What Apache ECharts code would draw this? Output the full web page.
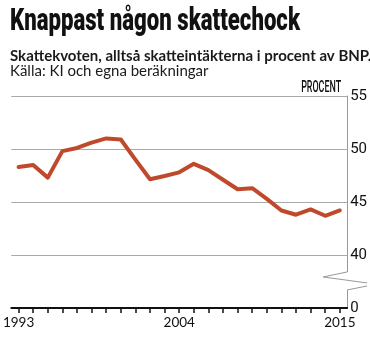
<!DOCTYPE html>
<html><head><meta charset="utf-8">
<script src="https://cdn.jsdelivr.net/npm/echarts@6/dist/echarts.min.js"></script>
<style>html,body{margin:0;padding:0;background:#fff}#c{width:370px;height:337px}</style>
</head><body><div id="c"></div>
<script>
const years = ['1993','1994','1995','1996','1997','1998','1999','2000','2001','2002','2003','2004','2005','2006','2007','2008','2009','2010','2011','2012','2013','2014','2015'];
const taxRatio = [48.3,48.5,47.3,49.8,50.1,50.6,51.0,50.9,49.0,47.15,47.45,47.8,48.6,48.0,47.1,46.2,46.3,45.3,44.2,43.8,44.3,43.7,44.2];
const yMin = 35, yMax = 55, yStep = 5;
const titleText = 'Knappast någon skattechock';
const subtitleText = 'Skattekvoten, alltså skatteintäkterna i procent av BNP.';
const sourceText = 'Källa: KI och egna beräkningar';
const unitText = 'PROCENT';

const sans = 'Lato,"Open Sans",sans-serif';
const titleFont = {family:'Roboto,"DejaVu Sans",sans-serif', weight:900, size:31};
const unitFont = {family:'Roboto,"DejaVu Sans",sans-serif', weight:500, size:16};

// horizontal compression factor to imitate the condensed typefaces
function fitScale(text, f, targetWidth){
  const ctx = document.createElement('canvas').getContext('2d');
  ctx.font = f.weight + ' ' + f.size + 'px ' + f.family;
  return targetWidth / ctx.measureText(text).width;
}
const titleScale = fitScale(titleText, titleFont, 290);
const unitScale = fitScale(unitText, unitFont, 40);

const chart = echarts.init(document.getElementById('c'), null, {renderer:'canvas'});
chart.setOption({
  animation:false,
  backgroundColor:'#fff',
  grid:{left:11,right:20,top:96,bottom:29,containLabel:false},
  xAxis:{
    type:'category',data:years,boundaryGap:true,
    axisLine:{show:true,lineStyle:{color:'#111',width:2}},
    axisTick:{show:true,interval:0,alignWithLabel:true,inside:false,length:5,lineStyle:{color:'#111',width:1.5}},
    axisLabel:{interval:10,margin:8,fontFamily:sans,fontSize:13.5,color:'#111'},
    splitLine:{show:false}
  },
  yAxis:{
    type:'value',position:'right',min:yMin,max:yMax,interval:yStep,
    axisLine:{show:true,lineStyle:{color:'#999',width:1}},
    axisTick:{show:false},
    axisLabel:{margin:3,fontFamily:'Roboto,sans-serif',fontSize:15,color:'#111',
      formatter:v=>v===yMin?'0':String(v)},
    splitLine:{lineStyle:{color:'#aaa',width:1}}
  },
  series:[{type:'line',data:taxRatio,symbol:'none',
    lineStyle:{color:'#bf4a2b',width:4,join:'round',cap:'round'}}]
});

function decorate(){
  const grid = chart.getModel().getComponent('grid').coordinateSystem.getRect();
  const ax = grid.x + grid.width;
  const yTop = chart.convertToPixel({yAxisIndex:0}, 38.4);
  const yBot = chart.convertToPixel({yAxisIndex:0}, 36.7);
  chart.setOption({graphic:[
    {type:'text',id:'title',x:10,y:7,scaleX:titleScale,
      style:{text:titleText,fontFamily:titleFont.family,fontWeight:titleFont.weight,fontSize:titleFont.size,fill:'#111',verticalAlign:'top',align:'left'}},
    {type:'text',id:'sub',x:10,y:49,
      style:{text:subtitleText,fontFamily:sans,fontWeight:'bold',fontSize:15,fill:'#1a1a1a',verticalAlign:'top'}},
    {type:'text',id:'src',x:10,y:64,
      style:{text:sourceText,fontFamily:sans,fontWeight:'normal',fontSize:15,fill:'#1a1a1a',verticalAlign:'top'}},
    {type:'text',id:'unit',x:ax-6,y:80,scaleX:unitScale,
      style:{text:unitText,fontFamily:unitFont.family,fontWeight:unitFont.weight,fontSize:unitFont.size,fill:'#111',align:'right',verticalAlign:'top'}},
    {type:'rect',id:'cover',shape:{x:ax-2,y:yTop,width:4,height:yBot-yTop},style:{fill:'#fff'},z:100},
    {type:'polyline',id:'z1',shape:{points:[[ax,yTop],[ax-24,yTop+5],[ax+20,yTop+11]]},style:{stroke:'#999',lineWidth:1,fill:null},z:101},
    {type:'polyline',id:'z2',shape:{points:[[ax,yBot],[ax+20,yBot-4]]},style:{stroke:'#999',lineWidth:1,fill:null},z:101}
  ]});
}
decorate();
</script></body></html>
